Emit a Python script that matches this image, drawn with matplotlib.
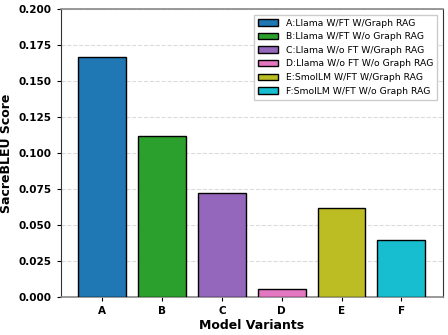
import matplotlib
matplotlib.use("Agg")
import matplotlib.pyplot as plt

variants = ["A", "B", "C", "D", "E", "F"]
labels = [
    "A:Llama W/FT W/Graph RAG",
    "B:Llama W/FT W/o Graph RAG",
    "C:Llama W/o FT W/Graph RAG",
    "D:Llama W/o FT W/o Graph RAG",
    "E:SmolLM W/FT W/Graph RAG",
    "F:SmolLM W/FT W/o Graph RAG",
]
scores = [0.1667, 0.1118, 0.0722, 0.0060, 0.0620, 0.0396]
colors = ["#1f77b4", "#2ca02c", "#9467bd", "#e377c2", "#bcbd22", "#17becf"]

fig = plt.figure(figsize=(4.48, 3.35), dpi=100)
ax = fig.add_axes([0.136, 0.1125, 0.852, 0.86])

bars = ax.bar(variants, scores, color=colors, edgecolor="black", linewidth=1, width=0.8, zorder=3)

ax.set_ylim(0, 0.2)
ax.set_yticks([0, 0.025, 0.05, 0.075, 0.1, 0.125, 0.15, 0.175, 0.2])
ax.yaxis.grid(True, linestyle="--", color="#cccccc", alpha=0.7, zorder=0)
ax.set_xlabel("Model Variants", fontsize=9, fontweight="bold", labelpad=2)
ax.set_ylabel("SacreBLEU Score", fontsize=9, fontweight="bold", labelpad=4)
for lab in ax.get_xticklabels() + ax.get_yticklabels():
    lab.set_fontweight("bold")
ax.tick_params(labelsize=7.5, length=3)

for s in ["top", "bottom"]:
    ax.spines[s].set_color("#888888")
    ax.spines[s].set_linewidth(1.2)
ax.spines["left"].set_color("#333333")
ax.spines["right"].set_color("#333333")

ax.legend(handles=bars, labels=labels, fontsize=6.7, loc="upper right", framealpha=1,
          edgecolor="#cccccc", handlelength=2.2, fancybox=False, borderaxespad=0.6)

fig.savefig("out.png", dpi=100)
